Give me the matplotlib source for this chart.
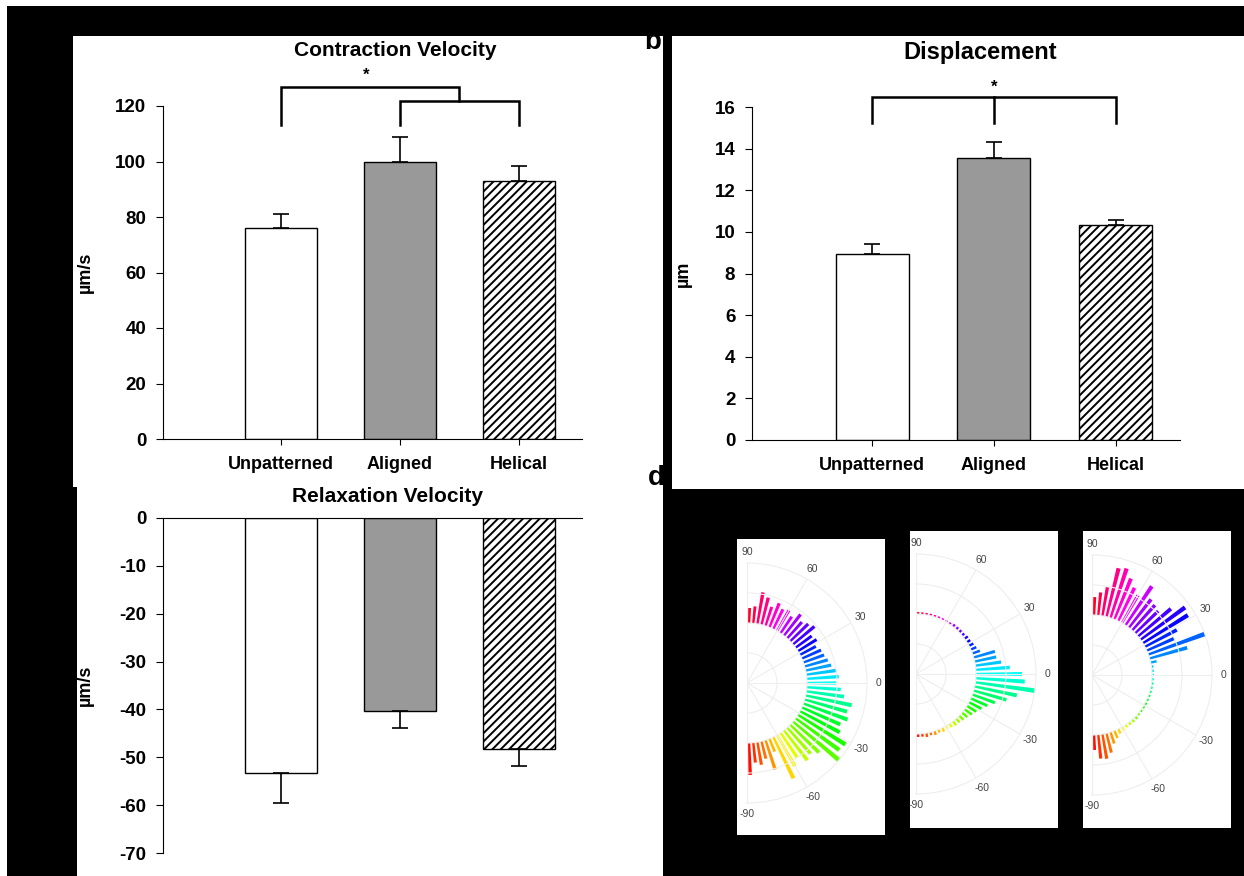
import matplotlib
matplotlib.use("Agg")
import matplotlib.pyplot as plt
from matplotlib.patches import Rectangle
import numpy as np

plt.rcParams['font.family'] = ['Liberation Sans', 'DejaVu Sans']
plt.rcParams['hatch.linewidth'] = 1.4
plt.rcParams['axes.unicode_minus'] = False

W, H = 1244, 876

# bar chart data
groups = ["Unpatterned", "Aligned", "Helical"]
contraction = [76, 100, 93]
contraction_err = [5, 9, 5.5]
displacement = [8.95, 13.55, 10.35]
displacement_err = [0.45, 0.75, 0.2]
relaxation = [-53.3, -40.3, -48.2]
relaxation_err = [6.3, 3.5, 3.7]

# rose plots (bar length beyond the inner ring), bins -88..88 deg
bin_deg = list(range(-88, 89, 4))
rose_unpatterned = [32, 20, 23, 18, 31, 14, 46, 36, 30, 38, 35, 40, 60, 54, 56, 45,
                    42, 47, 44, 47, 38, 34, 29, 32, 30, 26, 24, 22, 21, 18, 22, 20,
                    28, 25, 22, 27, 20, 24, 22, 26, 20, 28, 32, 17, 15]
rose_aligned = [3, 3, 4, 3, 4, 3, 4, 3, 4, 5, 5, 6, 7, 9, 11, 14,
                18, 24, 34, 43, 61, 49, 46, 34, 26, 22, 22, 8, 6, 5, 4, 4,
                3, 3, 3, 3, 2, 2, 2, 2, 2, 2, 2, 2, 2]
rose_helical = [15, 24, 25, 20, 12, 8, 5, 4, 3, 3, 3, 3, 2, 2, 2, 2,
                2, 2, 2, 2, 2, 2, 2, 2, 2, 6, 39, 61, 30, 36, 53, 55,
                43, 32, 34, 36, 47, 32, 37, 44, 52, 50, 29, 23, 18]

faces = ["white", "#999999", "white"]
hatches = [None, None, "////"]


def rect_px(x0, y0, x1, y1):
    # pixel box, origin top-left -> figure fraction [l, b, w, h]
    return [x0 / W, 1 - y1 / H, (x1 - x0) / W, (y1 - y0) / H]


def block(x0, y0, x1, y1, color="black", z=5):
    l, b, w, h = rect_px(x0, y0, x1, y1)
    fig.add_artist(Rectangle((l, b), w, h, transform=fig.transFigure,
                             facecolor=color, edgecolor="none", zorder=z))


def bar_panel(rect, vals, errs, ylim, yticks, ylabel, ylabel_x, show_x=True):
    ax = fig.add_axes(rect)
    x = np.arange(len(groups))
    bars = ax.bar(x, vals, 0.6, color=faces, edgecolor="black", linewidth=1.0, zorder=2)
    for b, h in zip(bars, hatches):
        if h:
            b.set_hatch(h)
    zeros = [0] * len(errs)
    if vals[0] < 0:
        yerr = [errs, zeros]
    else:
        yerr = [zeros, errs]
    ax.errorbar(x, vals, yerr=yerr, fmt="none", ecolor="black", elinewidth=1.2,
                capsize=6, capthick=1.2, zorder=3)
    ax.set_ylim(*ylim)
    ax.set_yticks(yticks)
    ax.set_xlim(-0.99, 2.53)
    ax.spines["right"].set_visible(False)
    if show_x:
        ax.spines["top"].set_visible(False)
        ax.set_xticks(x)
        ax.set_xticklabels(groups, fontsize=13, fontweight="bold")
        ax.tick_params(axis="x", length=4, pad=8)
    else:
        ax.spines["bottom"].set_visible(False)
        ax.set_xticks([])
    ax.tick_params(axis="y", length=5, pad=7, labelsize=13.5)
    for t in ax.get_yticklabels():
        t.set_fontweight("bold")
    ax.set_ylabel(ylabel, fontsize=13, fontweight="bold")
    ax.yaxis.set_label_coords(ylabel_x, 0.5)
    return ax


def bracket(ax, pts, lw=1.8):
    ax.plot([p[0] for p in pts], [p[1] for p in pts], color="black", lw=lw,
            clip_on=False, solid_joinstyle="miter", zorder=4)


def rose(cx, cy, lengths, R=120):
    # square box around the full circle; matplotlib fits the half wedge inside it
    ax = fig.add_axes(rect_px(cx - R / 2, cy - R, cx + 1.5 * R, cy + R),
                      projection="polar", zorder=7)
    ax.patch.set_visible(False)
    ax.set_thetamin(-90)
    ax.set_thetamax(90)
    theta = np.deg2rad(bin_deg)
    colors = plt.cm.hsv((np.array(bin_deg) + 90) / 180.0)
    ax.bar(theta, lengths, width=np.deg2rad(2.2), bottom=60, color=colors, linewidth=0)
    ax.set_ylim(0, 120)
    ax.set_yticks([30, 60, 90])
    ax.set_yticklabels([])
    ax.set_thetagrids([-90, -60, -30, 0, 30, 60, 90],
                      labels=["-90", "-60", "-30", "0", "30", "60", "90"],
                      fontsize=7.5, color="#444444")
    ax.tick_params(axis="both", length=0)
    ax.tick_params(axis="x", pad=1)
    ax.grid(color="#eeeeee", lw=0.8)
    # polar draw() switches start/end spines back on, so colour them instead
    for sp in ax.spines.values():
        sp.set_color("#eeeeee")
        sp.set_linewidth(0.8)
    return ax


fig = plt.figure(figsize=(W / 100, H / 100), dpi=100, facecolor="white")

# black framing of the scanned figure
block(7, 6, W, 36)
block(7, 6, 73, 487)
block(7, 487, 77, H)
block(663, 36, 672, 490)
block(663, 489, W, H)

# panel labels, partly hidden by the frame
fig.text(653 / W, 1 - 42 / H, "b", fontsize=20, fontweight="bold", ha="center", va="center", zorder=4)
fig.text(656 / W, 1 - 478 / H, "d", fontsize=20, fontweight="bold", ha="center", va="center", zorder=4)

# a: contraction velocity
ax_a = bar_panel(rect_px(163, 106, 582, 439), contraction, contraction_err,
                 (0, 120), range(0, 121, 20), "µm/s", -0.165)
bracket(ax_a, [(0, 113.2), (0, 126.8), (1.5, 126.8), (1.5, 121.8)])
bracket(ax_a, [(1, 113.2), (1, 121.8), (2, 121.8), (2, 113.2)])
ax_a.text(0.72, 131, "*", ha="center", va="center", fontsize=12, fontweight="bold")
fig.text(395 / W, 1 - 50 / H, "Contraction Velocity", ha="center", va="center",
         fontsize=15, fontweight="bold")

# b: displacement
ax_b = bar_panel(rect_px(752, 107, 1180, 440), displacement, displacement_err,
                 (0, 16), range(0, 17, 2), "µm", -0.14)
bracket(ax_b, [(0, 15.24), (0, 16.49), (2, 16.49), (2, 15.24)])
bracket(ax_b, [(1, 16.49), (1, 15.24)])
ax_b.text(1, 16.95, "*", ha="center", va="center", fontsize=12, fontweight="bold")
fig.text(980 / W, 1 - 53 / H, "Displacement", ha="center", va="center",
         fontsize=17, fontweight="bold")

# c: relaxation velocity
ax_c = bar_panel(rect_px(163, 518, 582, 853), relaxation, relaxation_err,
                 (-70, 0), range(-70, 1, 10), "µm/s", -0.165, show_x=False)
fig.text(388 / W, 1 - 497 / H, "Relaxation Velocity", ha="center", va="center",
         fontsize=15, fontweight="bold")

# d: fibre orientation roses
block(737, 539, 885, 835, color="white", z=6)
block(910, 531, 1058, 828, color="white", z=6)
block(1083, 531, 1231, 828, color="white", z=6)
rose(747, 683, rose_unpatterned)
rose(916, 674, rose_aligned)
rose(1092, 675, rose_helical)

fig.savefig("out.png", dpi=100, facecolor="white")
